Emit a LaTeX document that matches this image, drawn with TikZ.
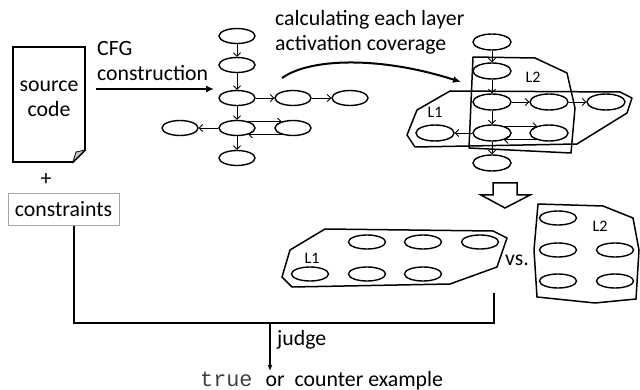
\documentclass[tikz,border=0pt]{standalone}
\usepackage{fontspec}
\setmainfont{Carlito}
\setmonofont{Liberation Mono}
\usetikzlibrary{shapes.geometric,arrows.meta}
\begin{document}
\begin{tikzpicture}[x=1pt,y=-1pt,
 ell/.style={ellipse,draw,line width=1.4pt,minimum width=36pt,minimum height=15pt,inner sep=0pt},
 ellb/.style={ell,minimum width=38pt,minimum height=16pt},
 ellc/.style={ell,minimum width=37pt,minimum height=14pt},
 sarr/.style={line width=0.9pt,-{Straight Barb[length=3.5pt,width=7pt]}},
 barr/.style={line width=2pt,-{Latex[length=8pt,width=7pt]}},
 poly/.style={line width=1.5pt,line join=round},
 txt/.style={inner sep=0pt,font=\fontsize{21.8}{25}\selectfont},
 lbl/.style={inner sep=0pt,font=\fontsize{16}{19}\selectfont},
]
\useasboundingbox (0,0) rectangle (640,390);

% source code document
\draw[line width=1.8pt,line join=miter] (13,47) -- (85,47) -- (85,150) -- (73,162) -- (13,162) -- cycle;
\filldraw[fill=gray!45,draw=black,line width=0.8pt] (85,150) -- (76,152) -- (73,162) -- cycle;
\node[txt,align=center] (src) at (49,99) {source\\code};
\node[txt] (plus) at (46,180) {+};
\node[txt,draw=gray!70,line width=0.8pt,minimum width=111pt,minimum height=32pt] (cons) at (63.5,209.5) {constraints};

% CFG construction arrow
\node[txt,align=left,anchor=west] (cfgl) at (97,61) {CFG\\construction};
\coordinate (cfgs) at (96,89);
\coordinate (cfge) at (214,89);
\draw[barr] (cfgs) -- (cfge);

% left CFG
\node[ell] (a1) at (237,36) {};
\node[ell] (a2) at (237,65) {};
\node[ell] (a3) at (237,98) {};
\node[ell] (a4) at (293,98) {};
\node[ell] (a5) at (350,98) {};
\node[ell] (a6) at (237,128) {};
\node[ell] (a7) at (180,128) {};
\node[ell] (a8) at (293,128) {};
\node[ell] (a9) at (237,158) {};
\draw[sarr] (a1) -- (a2);
\draw[sarr] (a2) -- (a3);
\draw[sarr] (a3) -- (a6);
\draw[sarr] (a6) -- (a9);
\draw[sarr] (a3) -- (a4);
\draw[sarr] (a4) -- (a5);
\draw[sarr] (a6) -- (a7);
\draw[sarr] (a6.30) -- (a8.150);
\draw[sarr] (a8.-150) -- (a6.-30);

% curved arrow with label
\node[txt,align=left,anchor=west] (calc) at (275,32.5) {calculating each layer\\activation coverage};
\coordinate (cs) at (282,78);
\coordinate (ce) at (461,82);
\draw[barr] (cs) .. controls (310,58) and (380,56) .. (ce);

% right CFG with layers
\node[ellb] (b1) at (492,42) {};
\node[ellb] (b2) at (492,71) {};
\node[ellb] (b3) at (492,102) {};
\node[ellb] (b4) at (549,102) {};
\node[ellb] (b5) at (606,102) {};
\node[ellb] (b6) at (492,133) {};
\node[ellb] (b7) at (435,133) {};
\node[ellb] (b8) at (549,133) {};
\node[ellb] (b9) at (492,163) {};
\draw[sarr] (b1) -- (b2);
\draw[sarr] (b2) -- (b3);
\draw[sarr] (b3) -- (b6);
\draw[sarr] (b6) -- (b9);
\draw[sarr] (b3) -- (b4);
\draw[sarr] (b4) -- (b5);
\draw[sarr] (b6) -- (b7);
\draw[sarr] (b6.30) -- (b8.150);
\draw[sarr] (b8.-150) -- (b6.-30);
\draw[poly] (473,57) -- (535,58) -- (567,73) -- (575,108) -- (571,153) -- (469,148) -- cycle;
\draw[poly] (450,91) -- (620,92) -- (632,98) -- (627,113) -- (577,144) -- (415,147) -- (407,135) -- (417,110) -- cycle;
\node[lbl] (l1a) at (435,112) {L1};
\node[lbl] (l2a) at (533,77) {L2};

% block arrow
\draw[line width=1.5pt,line join=miter] (493,183) -- (517,183) -- (517,195) -- (530,195) -- (505,208) -- (481,195) -- (493,195) -- cycle;

% separated layers
\draw[poly] (325,229) -- (493,231) -- (507,238) -- (497,267) -- (450,284) -- (292,287) -- (282,277) -- (290,250) -- cycle;
\node[ellc] (c1) at (367,242) {};
\node[ellc] (c2) at (423,242) {};
\node[ellc] (c3) at (480,242) {};
\node[ellc] (c4) at (310,274) {};
\node[ellc] (c5) at (367,274) {};
\node[ellc] (c6) at (423,274) {};
\node[lbl] (l1b) at (312,258) {L1};
\node[txt] (vs) at (517,260) {vs.};
\draw[poly] (538,204) -- (603,206) -- (633,218) -- (639,250) -- (636,299) -- (595,303) -- (537,297) -- (534,250) -- cycle;
\node[ellc] (d1) at (558,218) {};
\node[ellc] (d2) at (558,250) {};
\node[ellc] (d3) at (558,281) {};
\node[ellc] (d4) at (615,250) {};
\node[ellc] (d5) at (615,281) {};
\node[lbl] (l2b) at (600,226) {L2};

% judge bracket
\coordinate (bl) at (74,323);
\coordinate (br) at (494,323);
\coordinate (rt) at (494,293);
\coordinate (jt) at (270,323);
\coordinate (je) at (270,371);
\draw[line width=1.8pt,line join=miter] (cons.south -| bl) -- (bl) -- (br) -- (rt);
\draw[line width=1.5pt,-{Latex[length=6pt,width=5pt]}] (jt) -- (je);
\node[txt,anchor=west] (judge) at (277,340) {judge};
\node[txt,anchor=base west] (res) at (200,386) {\texttt{\color{black!75}true }or\hspace{5pt} counter example};
\end{tikzpicture}
\end{document}
